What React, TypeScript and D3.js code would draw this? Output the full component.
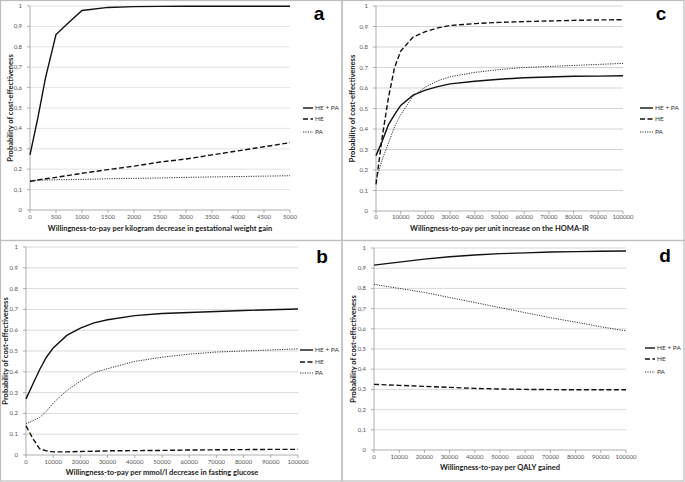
import React from "react";
import * as d3 from "d3";

// ---- data ----
const seriesNames = ["HE + PA", "HE", "PA"];

// panel a: willingness-to-pay per kg decrease in gestational weight gain
const aX = [0, 150, 300, 500, 750, 1000, 1500, 2000, 2500, 3000, 3500, 4000, 4500, 5000];
const aHEPA = [0.27, 0.45, 0.65, 0.86, 0.92, 0.978, 0.993, 0.997, 0.998, 0.999, 0.999, 0.999, 0.999, 0.999];
const aHE = [0.14, 0.147, 0.153, 0.16, 0.17, 0.18, 0.198, 0.215, 0.235, 0.25, 0.27, 0.29, 0.31, 0.33];
const aPA = [0.145, 0.146, 0.147, 0.148, 0.149, 0.15, 0.153, 0.155, 0.157, 0.16, 0.162, 0.164, 0.166, 0.168];
const aTicks = d3.range(0, 5001, 500);

// panel c: willingness-to-pay per unit increase on HOMA-IR
const cX = [0, 2500, 5000, 7500, 10000, 15000, 20000, 25000, 30000, 40000, 50000, 60000, 70000, 80000, 90000, 100000];
const cHEPA = [0.27, 0.34, 0.42, 0.47, 0.515, 0.565, 0.59, 0.607, 0.62, 0.633, 0.643, 0.65, 0.654, 0.657, 0.658, 0.66];
const cHE = [0.13, 0.36, 0.55, 0.7, 0.78, 0.848, 0.875, 0.893, 0.905, 0.914, 0.92, 0.924, 0.927, 0.93, 0.932, 0.933];
const cPA = [0.15, 0.25, 0.33, 0.41, 0.47, 0.56, 0.605, 0.635, 0.655, 0.676, 0.69, 0.7, 0.705, 0.71, 0.715, 0.72];

// panel b: willingness-to-pay per mmol/l decrease in fasting glucose
const bX = [0, 2500, 5000, 7500, 10000, 15000, 20000, 25000, 30000, 40000, 50000, 60000, 70000, 80000, 90000, 100000];
const bHEPA = [0.27, 0.34, 0.41, 0.47, 0.515, 0.575, 0.61, 0.635, 0.65, 0.67, 0.68, 0.685, 0.69, 0.695, 0.698, 0.702];
const bHE = [0.14, 0.08, 0.03, 0.02, 0.015, 0.015, 0.017, 0.018, 0.02, 0.021, 0.022, 0.024, 0.025, 0.026, 0.027, 0.027];
const bPA = [0.15, 0.165, 0.18, 0.21, 0.25, 0.31, 0.355, 0.395, 0.415, 0.45, 0.47, 0.485, 0.495, 0.5, 0.505, 0.51];

// panel d: willingness-to-pay per QALY gained
const dX = [0, 10000, 20000, 30000, 40000, 50000, 60000, 70000, 80000, 90000, 100000];
const dHEPA = [0.915, 0.93, 0.945, 0.957, 0.965, 0.972, 0.976, 0.98, 0.982, 0.984, 0.985];
const dHE = [0.325, 0.32, 0.315, 0.31, 0.305, 0.302, 0.3, 0.299, 0.298, 0.298, 0.298];
const dPA = [0.82, 0.8, 0.78, 0.755, 0.73, 0.705, 0.68, 0.655, 0.633, 0.61, 0.59];

const bigTicks = d3.range(0, 100001, 10000);
const yTicks = d3.range(0, 1.0001, 0.1);

const FONT = "Lato, 'Open Sans', sans-serif";

const styles = [
  { dash: "none", width: 1.4, color: "#111" },
  { dash: "5,2.5", width: 1.4, color: "#111" },
  { dash: "1.2,1.2", width: 1, color: "#333" },
];

type PanelProps = {
  letter: string;
  xs: number[];
  series: number[][];
  xTicks: number[];
  xTitle: string;
  comma: boolean;
  box: [number, number, number, number];
  x0: number; x1: number; yTop: number; yBot: number;
  tickY: number; titleY: number; yTitleX: number;
  legLine: [number, number]; legText: number; legY: number[];
  letterPos: [number, number];
  gridColor: string;
};

function Panel(p: PanelProps) {
  const x = d3.scaleLinear().domain([p.xTicks[0], p.xTicks[p.xTicks.length - 1]]).range([p.x0, p.x1]);
  const y = d3.scaleLinear().domain([0, 1]).range([p.yBot, p.yTop]);
  const line = d3.line<[number, number]>().x(d => x(d[0])).y(d => y(d[1]));
  const fmt = (v: number) => {
    const s = v === 0 || v === 1 ? String(Math.round(v)) : v.toFixed(1);
    return p.comma ? s.replace(".", ",") : s;
  };
  return (
    <g>
      <rect x={p.box[0]} y={p.box[1]} width={p.box[2]} height={p.box[3]} fill="none" stroke="#bdbdbd" strokeWidth={1.2} />
      {yTicks.slice(1).map((t, i) => (
        <line key={i} x1={p.x0} x2={p.x1} y1={y(t)} y2={y(t)} stroke={p.gridColor} strokeWidth={0.8} />
      ))}
      <line x1={p.x0} x2={p.x0} y1={p.yTop} y2={p.yBot} stroke="#999" strokeWidth={0.8} />
      <line x1={p.x0} x2={p.x1} y1={p.yBot} y2={p.yBot} stroke="#999" strokeWidth={0.8} />
      {yTicks.map((t, i) => (
        <g key={i}>
          <line x1={p.x0 - 3} x2={p.x0} y1={y(t)} y2={y(t)} stroke="#999" strokeWidth={0.8} />
          <text x={p.x0 - 8} y={y(t) + 2} fontSize={6} textAnchor="end" fill="#555" fontFamily={FONT}>{fmt(t)}</text>
        </g>
      ))}
      {p.xTicks.map((t, i) => (
        <g key={i}>
          <line x1={x(t)} x2={x(t)} y1={p.yBot} y2={p.yBot + 3} stroke="#999" strokeWidth={0.8} />
          <text x={x(t)} y={p.tickY} fontSize={6} textAnchor="middle" fill="#555" fontFamily={FONT}>{t}</text>
        </g>
      ))}
      <text x={(p.x0 + p.x1) / 2} y={p.titleY} fontSize={7.5} fontWeight="bold" textAnchor="middle" fill="#222" fontFamily={FONT}>{p.xTitle}</text>
      <text transform={`translate(${p.yTitleX},${(p.yTop + p.yBot) / 2}) rotate(-90)`} fontSize={7.5} fontWeight="bold" textAnchor="middle" fill="#222" fontFamily={FONT}>Probability of cost-effectiveness</text>
      {p.series.map((vals, i) => (
        <path key={i} d={line(p.xs.map((v, j) => [v, vals[j]]) as [number, number][]) || ""}
          fill="none" stroke={styles[i].color} strokeWidth={styles[i].width} strokeDasharray={styles[i].dash} />
      ))}
      {seriesNames.map((n, i) => (
        <g key={n}>
          <line x1={p.legLine[0]} x2={p.legLine[1]} y1={p.legY[i]} y2={p.legY[i]} stroke={styles[i].color}
            strokeWidth={styles[i].width} strokeDasharray={styles[i].dash} />
          <text x={p.legText} y={p.legY[i] + 2} fontSize={6.5} fill="#333" fontFamily={FONT}>{n}</text>
        </g>
      ))}
      <text x={p.letterPos[0]} y={p.letterPos[1]} fontSize={19} fontWeight="bold" textAnchor="middle" fill="#000" fontFamily="'Liberation Sans', Arial, sans-serif">{p.letter}</text>
    </g>
  );
}

export default function App() {
  return (
    <svg width={685} height={482} style={{ position: "absolute", left: 0, top: 0, background: "#fff" }}>
      <rect x={0} y={0} width={685} height={482} fill="#fff" />
      <Panel letter="a" xs={aX} series={[aHEPA, aHE, aPA]} xTicks={aTicks}
        xTitle="Willingness-to-pay per kilogram decrease in gestational weight gain" comma={true}
        box={[0.5, 0.5, 341.5, 240]} x0={30} x1={290} yTop={6} yBot={210} tickY={219} titleY={231} yTitleX={13}
        legLine={[303, 313]} legText={315} legY={[108, 119, 132]} letterPos={[319, 20]} gridColor="#dcdcdc" />
      <Panel letter="c" xs={cX} series={[cHEPA, cHE, cPA]} xTicks={bigTicks}
        xTitle="Willingness-to-pay per unit increase on the HOMA-IR" comma={false}
        box={[342, 0.5, 342, 240]} x0={376} x1={623} yTop={6} yBot={211} tickY={219} titleY={231} yTitleX={355}
        legLine={[640, 653]} legText={655} legY={[108, 119, 132]} letterPos={[661, 20]} gridColor="#c8c8c8" />
      <Panel letter="b" xs={bX} series={[bHEPA, bHE, bPA]} xTicks={bigTicks}
        xTitle="Willingness-to-pay per mmol/l decrease  in fasting glucose" comma={false}
        box={[0.5, 240.5, 341.5, 240.5]} x0={26} x1={298} yTop={247} yBot={455} tickY={464} titleY={475} yTitleX={8}
        legLine={[300, 313]} legText={315} legY={[350, 362, 373]} letterPos={[322, 263]} gridColor="#d0d0d0" />
      <Panel letter="d" xs={dX} series={[dHEPA, dHE, dPA]} xTicks={bigTicks}
        xTitle="Willingness-to-pay per QALY gained" comma={true}
        box={[342, 240.5, 342, 240.5]} x0={374} x1={626} yTop={248} yBot={450} tickY={459} titleY={470} yTitleX={356}
        legLine={[645, 655]} legText={657} legY={[348, 359, 372]} letterPos={[665, 262]} gridColor="#cfcfcf" />
    </svg>
  );
}
